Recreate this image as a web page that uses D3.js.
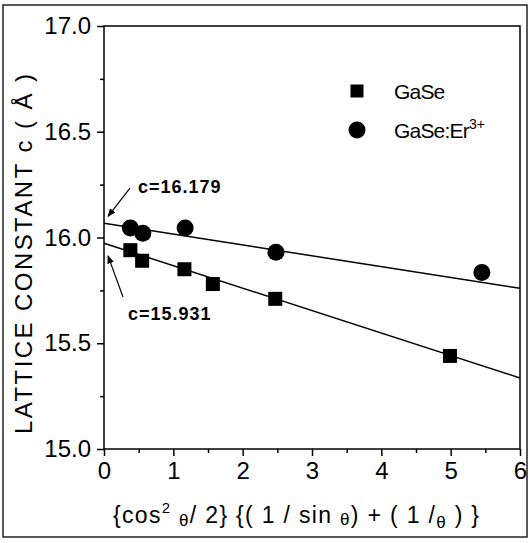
<!DOCTYPE html>
<html>
<head>
<meta charset="utf-8">
<script src="https://cdn.jsdelivr.net/npm/d3@7"></script>
<style>
  body { margin: 0; background: #fff; }
  svg { display: block; font-family: "Liberation Sans", Arial, sans-serif; }
</style>
</head>
<body>
<div id="chart"></div>
<script>
// data
var gaseX = [0.38, 0.55, 1.16, 1.57, 2.47, 4.99];
var gaseY = [15.94, 15.89, 15.85, 15.78, 15.71, 15.44];
var erX = [0.38, 0.56, 1.17, 2.48, 5.45];
var erY = [16.045, 16.02, 16.045, 15.93, 15.835];
// linear fits, end points
var gaseFit = [[0, 15.973], [6, 15.336]];
var erFit = [[0, 16.067], [6, 15.76]];
var xTicks = [0, 1, 2, 3, 4, 5, 6];
var yTicks = [15.0, 15.5, 16.0, 16.5, 17.0];

var width = 530, height = 543;
var margin = {top: 26, right: 10, bottom: 94, left: 104};

var svg = d3.select("#chart").append("svg")
    .attr("width", width)
    .attr("height", height);

// scanned page frame
svg.append("rect")
    .attr("x", 3).attr("y", 5)
    .attr("width", 524).attr("height", 532)
    .style("fill", "none")
    .style("stroke", "#222")
    .style("stroke-width", 1.5);

var x = d3.scaleLinear().domain([0, 6]).range([margin.left, width - margin.right]);
var y = d3.scaleLinear().domain([15, 17]).range([height - margin.bottom, margin.top]);

// plot frame
svg.append("rect")
    .attr("x", x(0)).attr("y", y(17))
    .attr("width", x(6) - x(0)).attr("height", y(15) - y(17))
    .style("fill", "none")
    .style("stroke", "#000")
    .style("stroke-width", 1.5);

// minor ticks
svg.append("g")
    .attr("transform", "translate(0," + y(15) + ")")
    .call(d3.axisBottom(x).tickValues(d3.range(0.5, 6, 1)).tickSize(4).tickFormat(""))
    .call(function(g) { g.select(".domain").remove(); });
svg.append("g")
    .attr("transform", "translate(" + x(0) + ",0)")
    .call(d3.axisLeft(y).tickValues([15.25, 15.75, 16.25, 16.75]).tickSize(4).tickFormat(""))
    .call(function(g) { g.select(".domain").remove(); });

// major ticks + labels
var xAxis = svg.append("g")
    .attr("transform", "translate(0," + y(15) + ")")
    .call(d3.axisBottom(x).tickValues(xTicks).tickSize(7).tickPadding(6).tickFormat(d3.format("d")));
xAxis.select(".domain").remove();
xAxis.selectAll("text").style("font-size", "24px").style("font-family", "Liberation Sans, Arial").style("fill", "#000");

var yAxis = svg.append("g")
    .attr("transform", "translate(" + x(0) + ",0)")
    .call(d3.axisLeft(y).tickValues(yTicks).tickSize(7).tickPadding(6).tickFormat(d3.format(".1f")));
yAxis.select(".domain").remove();
yAxis.selectAll("text").style("font-size", "24px").style("font-family", "Liberation Sans, Arial").style("fill", "#000");
svg.selectAll(".tick line").style("stroke", "#000").style("stroke-width", 1.5);

// fit lines
var line = d3.line().x(function(d) { return x(d[0]); }).y(function(d) { return y(d[1]); });
svg.append("path").datum(gaseFit).attr("d", line)
    .style("fill", "none").style("stroke", "#000").style("stroke-width", 1.5);
svg.append("path").datum(erFit).attr("d", line)
    .style("fill", "none").style("stroke", "#000").style("stroke-width", 1.5);

// points
var sq = 14;
svg.selectAll(".sq").data(gaseX).enter().append("rect")
    .attr("x", function(d) { return x(d) - sq / 2; })
    .attr("y", function(d, i) { return y(gaseY[i]) - sq / 2; })
    .attr("width", sq).attr("height", sq)
    .style("fill", "#000");
svg.selectAll(".ci").data(erX).enter().append("circle")
    .attr("cx", function(d) { return x(d); })
    .attr("cy", function(d, i) { return y(erY[i]); })
    .attr("r", 8.5)
    .style("fill", "#000");

// annotations
svg.append("defs").append("marker")
    .attr("id", "arr")
    .attr("viewBox", "0 0 10 10")
    .attr("refX", 9).attr("refY", 5)
    .attr("markerWidth", 7).attr("markerHeight", 7)
    .attr("orient", "auto")
    .append("path").attr("d", "M0,1 L10,5 L0,9 Z").style("fill", "#000");

svg.append("line")
    .attr("x1", x(0.375)).attr("y1", y(16.234))
    .attr("x2", x(0.058)).attr("y2", y(16.10))
    .style("stroke", "#000").style("stroke-width", 1.2)
    .attr("marker-end", "url(#arr)");
svg.append("line")
    .attr("x1", x(0.274)).attr("y1", y(15.719))
    .attr("x2", x(0.058)).attr("y2", y(15.913))
    .style("stroke", "#000").style("stroke-width", 1.2)
    .attr("marker-end", "url(#arr)");

svg.append("text")
    .attr("x", x(0.49)).attr("y", y(16.21))
    .text("c=16.179")
    .style("font-size", "18px").style("font-weight", "bold")
    .style("letter-spacing", "1px");
svg.append("text")
    .attr("x", x(0.346)).attr("y", y(15.61))
    .text("c=15.931")
    .style("font-size", "18px").style("font-weight", "bold")
    .style("letter-spacing", "1px");

// legend
svg.append("rect")
    .attr("x", 357 - 6.5).attr("y", 91 - 6.5)
    .attr("width", 13).attr("height", 13)
    .style("fill", "#000");
svg.append("text")
    .attr("x", 394).attr("y", 99)
    .text("GaSe")
    .style("font-size", "21px")
    .style("letter-spacing", "-0.8px");
svg.append("circle")
    .attr("cx", 357).attr("cy", 130).attr("r", 8.5)
    .style("fill", "#000");
var lg = svg.append("text")
    .attr("x", 394).attr("y", 138)
    .style("font-size", "21px")
    .style("letter-spacing", "-0.8px");
lg.append("tspan").text("GaSe:Er");
lg.append("tspan").attr("dy", -9).style("font-size", "14px").style("letter-spacing", "0px").text("3+");

// y title
svg.append("text")
    .attr("transform", "translate(32," + 254 + ") rotate(-90)")
    .attr("text-anchor", "middle")
    .attr("textLength", 360)
    .attr("lengthAdjust", "spacing")
    .style("font-size", "24px")
    .text("LATTICE CONSTANT c ( Å )");

// x title
var xt = svg.append("text")
    .attr("x", 113).attr("y", 523)
    .attr("textLength", 366)
    .attr("lengthAdjust", "spacing")
    .style("font-size", "23px");
xt.append("tspan").text("{cos");
xt.append("tspan").attr("dy", -10).style("font-size", "15px").text("2");
xt.append("tspan").attr("dy", 10).text("  ");
xt.append("tspan").attr("dy", 3).style("font-size", "17px").text("θ");
xt.append("tspan").attr("dy", -3).text("/ 2} {( 1 / sin ");
xt.append("tspan").attr("dy", 2).style("font-size", "17px").text("θ");
xt.append("tspan").attr("dy", -2).text(") + ( 1 /");
xt.append("tspan").attr("dy", 5).style("font-size", "17px").text("θ");
xt.append("tspan").attr("dy", -5).text(" ) }");
</script>
</body>
</html>
